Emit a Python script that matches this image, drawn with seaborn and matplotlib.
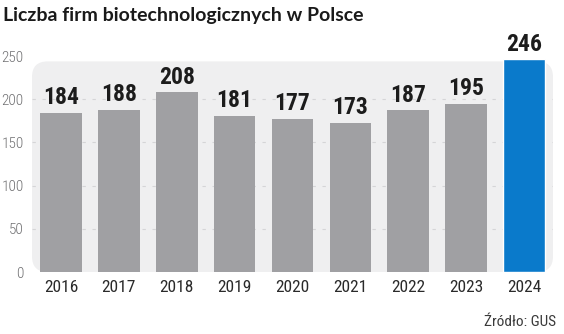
import matplotlib
matplotlib.use("Agg")
import matplotlib.pyplot as plt
from matplotlib.patches import FancyBboxPatch
import seaborn as sns
import pandas as pd

years = ["2016", "2017", "2018", "2019", "2020", "2021", "2022", "2023", "2024"]
firms = [184, 188, 208, 181, 177, 173, 187, 195, 246]
y_ticks = [0, 50, 100, 150, 200, 250]

GRAY = "#a0a0a3"
BLUE = "#0a7acb"
PANEL = "#efeff0"

sns.set_theme(style="white")
narrow = ["Roboto Condensed", "DejaVu Sans"]
plt.rcParams["font.family"] = narrow

df = pd.DataFrame({"year": years, "firms": firms})
palette = {y: GRAY for y in years}
palette[years[-1]] = BLUE

fig = plt.figure(figsize=(5.64, 3.34), dpi=100)
ax = fig.add_axes([32 / 564, 1 - 272 / 334, (553 - 32) / 564, (272 - 56) / 334])

sns.barplot(data=df, x="year", y="firms", hue="year", palette=palette,
            width=0.72, legend=False, ax=ax, zorder=3, saturation=1)

for i, p in enumerate(ax.patches):
    if i == len(years) - 1:
        p.set_edgecolor("white")
        p.set_linewidth(1.0)
    else:
        p.set_edgecolor("none")

ax.set_xlim(-0.5, len(years) - 0.5)
ax.set_ylim(0, 250)

# rounded background panel
panel = FancyBboxPatch((0.0, 0.0), 1.0, 0.975, boxstyle="round,pad=0,rounding_size=0.03",
                       transform=ax.transAxes, facecolor=PANEL, edgecolor="none",
                       zorder=0, mutation_aspect=521 / 216)
ax.add_patch(panel)
ax.set_facecolor("none")

for v in y_ticks[1:-1]:
    ax.axhline(v, color="#d5d5d7", lw=0.8, ls=(0, (3, 6)), zorder=1)

for s in ax.spines.values():
    s.set_visible(False)

ax.set_yticks(y_ticks)
ax.set_yticklabels([str(t) for t in y_ticks], color="#707072", fontsize=11,
                   fontweight="light")
ax.tick_params(axis="y", length=0, pad=6)
ax.tick_params(axis="x", length=0, pad=6, labelsize=12.5, labelcolor="#2a2a2a")
ax.set_xlabel("")
ax.set_ylabel("")

for i, v in enumerate(firms):
    ax.text(i, v + 10, str(v), ha="center", va="baseline", fontsize=17,
            fontweight="bold", color="#1c1c1c", zorder=4)

fig.text(3 / 564, 1 - 16 / 334, "Liczba firm biotechnologicznych w Polsce",
         family=["Lato", "DejaVu Sans"], fontweight="bold", fontsize=14,
         color="#1a1a1a", ha="left", va="center")
fig.text(556 / 564, 1 - 322 / 334, "Źródło: GUS", fontsize=11, color="#3a3a3a",
         ha="right", va="center")

fig.savefig("out.png", dpi=100)
